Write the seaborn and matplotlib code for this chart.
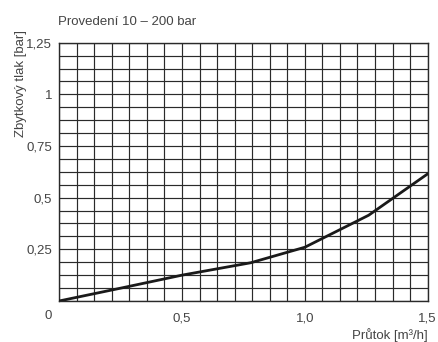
import numpy as np
import pandas as pd

import matplotlib
matplotlib.use("Agg")
import matplotlib.pyplot as plt
import seaborn as sns

# curve
flow = [0.0, 0.25, 0.5, 0.78, 1.0, 1.26, 1.5]
pressure = [0.0, 0.062, 0.125, 0.185, 0.26, 0.415, 0.615]

x_ticks = [0.5, 1.0, 1.5]
x_labels = ["0,5", "1,0", "1,5"]
y_ticks = [0.25, 0.5, 0.75, 1.0, 1.25]
y_labels = ["0,25", "0,5", "0,75", "1", "1,25"]

title = "Provedení 10 – 200 bar"
xlabel = "Průtok [m³/h]"
ylabel = "Zbytkový tlak [bar]"

sns.set_style("white")
plt.rcParams['font.family'] = ['Liberation Sans', 'DejaVu Sans']

txt = "#444444"
grid = "#2a2a2a"
fs = 9.5

fig = plt.figure(figsize=(4.39, 3.42), dpi=100)
ax = fig.add_axes([0.135, 0.12, 0.839, 0.755])

df = pd.DataFrame({"flow": flow, "pressure": pressure})
sns.lineplot(data=df, x="flow", y="pressure", ax=ax, color="#1a1a1a",
             linewidth=2.0, zorder=5)

ax.set_xlim(0, 1.5)
ax.set_ylim(0, 1.25)

# grid lines: 21 columns, 20 rows
ax.set_xticks(np.linspace(0, 1.5, 22), minor=True)
ax.set_yticks(np.linspace(0, 1.25, 21), minor=True)
ax.grid(which="both", color=grid, linewidth=0.85)
ax.tick_params(which="minor", length=0)

ax.set_xticks(x_ticks)
ax.set_xticklabels(x_labels)
ax.set_yticks(y_ticks)
ax.set_yticklabels(y_labels)
ax.tick_params(which="major", length=4, width=0.9, color=grid,
               labelsize=fs, labelcolor=txt, pad=1)
ax.tick_params(axis="x", direction="out", pad=4)

for s in ax.spines.values():
    s.set_color(grid)
    s.set_linewidth(1.0)

ax.set_xlabel("")
ax.set_ylabel("")

# origin label placed below-left of the corner
ax.text(-0.031, -0.058, "0", transform=ax.transAxes, ha="center", va="center",
        fontsize=fs, color=txt)

fig.text(0.974, 0.02, xlabel, ha="right", va="center", fontsize=fs, color=txt)
fig.text(0.048, 0.913, ylabel, rotation=90, ha="center", va="top",
         fontsize=fs, color=txt)
fig.text(0.133, 0.935, title, ha="left", va="center", fontsize=fs, color=txt)

plt.savefig("out.png", dpi=100)
plt.close()
